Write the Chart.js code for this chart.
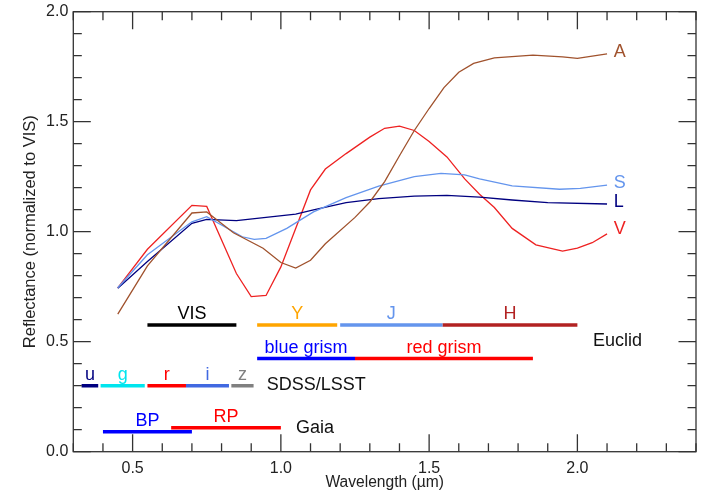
<!DOCTYPE html>
<html>
<head>
<meta charset="utf-8">
<script src="https://cdn.jsdelivr.net/npm/chart.js@4.4.0/dist/chart.umd.min.js"></script>
<style>
  html, body { margin: 0; padding: 0; background: #fff; }
</style>
</head>
<body>
<canvas id="reflChart" width="701" height="492"></canvas>
<script>
// asteroid spectra (wavelength in micron, reflectance normalized to VIS)
const waveA = [0.45, 0.55, 0.70, 0.75, 0.84, 0.94, 1.00, 1.05, 1.10, 1.15, 1.25, 1.30, 1.35, 1.40, 1.45, 1.50, 1.55, 1.60, 1.65, 1.72, 1.85, 1.95, 2.00, 2.10];
const reflA = [0.625, 0.845, 1.085, 1.09, 0.995, 0.925, 0.86, 0.835, 0.87, 0.945, 1.065, 1.135, 1.228, 1.345, 1.46, 1.56, 1.655, 1.725, 1.765, 1.79, 1.803, 1.795, 1.788, 1.808];

const waveS = [0.45, 0.55, 0.70, 0.75, 0.87, 0.91, 0.95, 1.02, 1.11, 1.22, 1.33, 1.45, 1.54, 1.62, 1.67, 1.78, 1.94, 2.01, 2.10];
const reflS = [0.745, 0.895, 1.045, 1.068, 0.977, 0.965, 0.97, 1.015, 1.09, 1.155, 1.207, 1.25, 1.265, 1.258, 1.24, 1.208, 1.193, 1.197, 1.212];

const waveL = [0.45, 0.55, 0.70, 0.75, 0.85, 0.95, 1.05, 1.11, 1.22, 1.33, 1.45, 1.56, 1.67, 1.78, 1.90, 2.10];
const reflL = [0.743, 0.865, 1.038, 1.056, 1.05, 1.065, 1.08, 1.099, 1.132, 1.15, 1.162, 1.165, 1.157, 1.144, 1.132, 1.126];

const waveV = [0.45, 0.55, 0.70, 0.75, 0.85, 0.90, 0.95, 1.00, 1.10, 1.15, 1.22, 1.30, 1.35, 1.40, 1.45, 1.50, 1.56, 1.62, 1.67, 1.72, 1.78, 1.86, 1.95, 2.00, 2.05, 2.10];
const reflV = [0.745, 0.92, 1.12, 1.115, 0.81, 0.705, 0.71, 0.84, 1.19, 1.285, 1.355, 1.43, 1.47, 1.48, 1.46, 1.41, 1.34, 1.24, 1.17, 1.11, 1.015, 0.94, 0.912, 0.925, 0.95, 0.99];

const curveNames = ["A", "S", "L", "V"];
const curveLabelY = [1.818, 1.22, 1.136, 1.012];
const curveColors = ["#a0522d", "#6495ed", "#000080", "#ee2222"];

// filter passbands
const bandNames = ["VIS", "Y", "J", "H", "blue grism", "red grism", "u", "g", "r", "i", "z", "BP", "RP"];
const bandStart = [0.55, 0.92, 1.20, 1.545, 0.92, 1.25, 0.328, 0.392, 0.55, 0.68, 0.833, 0.40, 0.63];
const bandEnd = [0.85, 1.19, 1.545, 2.00, 1.25, 1.85, 0.384, 0.541, 0.68, 0.825, 0.908, 0.70, 1.00];
const bandLevel = [0.576, 0.576, 0.576, 0.576, 0.424, 0.424, 0.30, 0.30, 0.30, 0.30, 0.30, 0.091, 0.109];
const bandColors = ["#000000", "#ffa500", "#6495ed", "#b22222", "#0000ff", "#ff0000", "#000080", "#00e5ee", "#ff0000", "#4169e1", "#808080", "#0000ff", "#ff0000"];

const groupNames = ["Euclid", "SDSS/LSST", "Gaia"];
const groupX = [2.053, 0.952, 1.051];
const groupY = [0.503, 0.303, 0.108];

const FONT = "'Liberation Sans', Arial, Helvetica, sans-serif";
Chart.defaults.font.family = FONT;

function isMajor(v) {
  return Math.abs(v * 2 - Math.round(v * 2)) < 1e-6;
}

function pts(xs, ys) {
  let out = [];
  for (let i = 0; i < xs.length; i++) {
    out.push({ x: xs[i], y: ys[i] });
  }
  return out;
}

let datasets = [];
for (let i = 0; i < bandNames.length; i++) {
  datasets.push({
    label: bandNames[i],
    data: [{ x: bandStart[i], y: bandLevel[i] }, { x: bandEnd[i], y: bandLevel[i] }],
    borderColor: bandColors[i],
    borderWidth: 3.5,
    borderCapStyle: "butt",
    pointRadius: 0,
  });
}
const curveWave = [waveA, waveS, waveL, waveV];
const curveRefl = [reflA, reflS, reflL, reflV];
for (let i = 0; i < curveNames.length; i++) {
  datasets.push({
    label: curveNames[i],
    data: pts(curveWave[i], curveRefl[i]),
    borderColor: curveColors[i],
    borderWidth: 1.3,
    pointRadius: 0,
    tension: 0,
  });
}

// frame + inward ticks on all four sides
const frameTicks = {
  id: "frameTicks",
  afterDraw(chart) {
    const ctx = chart.ctx;
    const a = chart.chartArea;
    const sx = chart.scales.x;
    const sy = chart.scales.y;
    ctx.save();
    ctx.strokeStyle = "#333";
    ctx.lineWidth = 1.3;
    ctx.strokeRect(a.left, a.top, a.right - a.left, a.bottom - a.top);
    ctx.beginPath();
    sx.ticks.forEach(t => {
      const px = sx.getPixelForValue(t.value);
      const len = isMajor(t.value) ? 17.5 : 8.5;
      ctx.moveTo(px, a.bottom); ctx.lineTo(px, a.bottom - len);
      ctx.moveTo(px, a.top); ctx.lineTo(px, a.top + len);
    });
    sy.ticks.forEach(t => {
      const py = sy.getPixelForValue(t.value);
      const len = isMajor(t.value) ? 17.5 : 8.5;
      ctx.moveTo(a.left, py); ctx.lineTo(a.left + len, py);
      ctx.moveTo(a.right, py); ctx.lineTo(a.right - len, py);
    });
    ctx.stroke();
    ctx.restore();
  },
};

// text annotations placed in data coordinates
const annotations = {
  id: "annotations",
  afterDatasetsDraw(chart) {
    const ctx = chart.ctx;
    const sx = chart.scales.x;
    const sy = chart.scales.y;
    ctx.save();
    ctx.font = "18px " + FONT;
    ctx.textBaseline = "alphabetic";
    ctx.textAlign = "center";
    for (let i = 0; i < bandNames.length; i++) {
      const cx = sx.getPixelForValue((bandStart[i] + bandEnd[i]) / 2);
      const cy = sy.getPixelForValue(bandLevel[i]);
      ctx.fillStyle = bandColors[i];
      ctx.fillText(bandNames[i], cx, cy - 5.5);
    }
    ctx.textAlign = "left";
    ctx.textBaseline = "middle";
    ctx.fillStyle = "#111";
    for (let i = 0; i < groupNames.length; i++) {
      ctx.fillText(groupNames[i], sx.getPixelForValue(groupX[i]), sy.getPixelForValue(groupY[i]));
    }
    for (let i = 0; i < curveNames.length; i++) {
      ctx.fillStyle = curveColors[i];
      ctx.fillText(curveNames[i], sx.getPixelForValue(2.123), sy.getPixelForValue(curveLabelY[i]));
    }
    ctx.restore();
  },
};

function zeroPad(s) {
  s.paddingLeft = 0;
  s.paddingRight = 0;
  s.paddingTop = 0;
  s.paddingBottom = 0;
}

const reflChart = new Chart(document.getElementById("reflChart"), {
  type: "line",
  data: { datasets: datasets },
  options: {
    responsive: false,
    animation: false,
    layout: { padding: { top: 11.7, right: 5, left: 0, bottom: 0 } },
    plugins: {
      legend: { display: false },
      tooltip: { enabled: false },
    },
    scales: {
      x: {
        type: "linear",
        min: 0.3,
        max: 2.4,
        grid: { display: false, drawTicks: false },
        border: { display: false },
        ticks: {
          stepSize: 0.1,
          autoSkip: false,
          maxRotation: 0,
          padding: 7,
          color: "#222",
          font: { size: 16 },
          callback: v => (isMajor(v) ? v.toFixed(1) : ""),
        },
        title: {
          display: true,
          text: "Wavelength (µm)",
          color: "#222",
          font: { size: 15.6 },
          padding: { top: 0, bottom: 0 },
        },
        afterFit: s => { s.height = 40.3; zeroPad(s); },
      },
      y: {
        type: "linear",
        min: 0,
        max: 2.0,
        grid: { display: false, drawTicks: false },
        border: { display: false },
        ticks: {
          stepSize: 0.1,
          autoSkip: false,
          padding: 5,
          color: "#222",
          font: { size: 16 },
          callback: v => (isMajor(v) ? v.toFixed(1) : ""),
        },
        title: {
          display: true,
          text: "Reflectance (normalized to VIS)",
          color: "#222",
          font: { size: 16.5 },
          padding: { top: 21, bottom: 0 },
        },
        afterFit: s => { s.width = 73.3; zeroPad(s); },
      },
    },
  },
  plugins: [frameTicks, annotations],
});
</script>
</body>
</html>
